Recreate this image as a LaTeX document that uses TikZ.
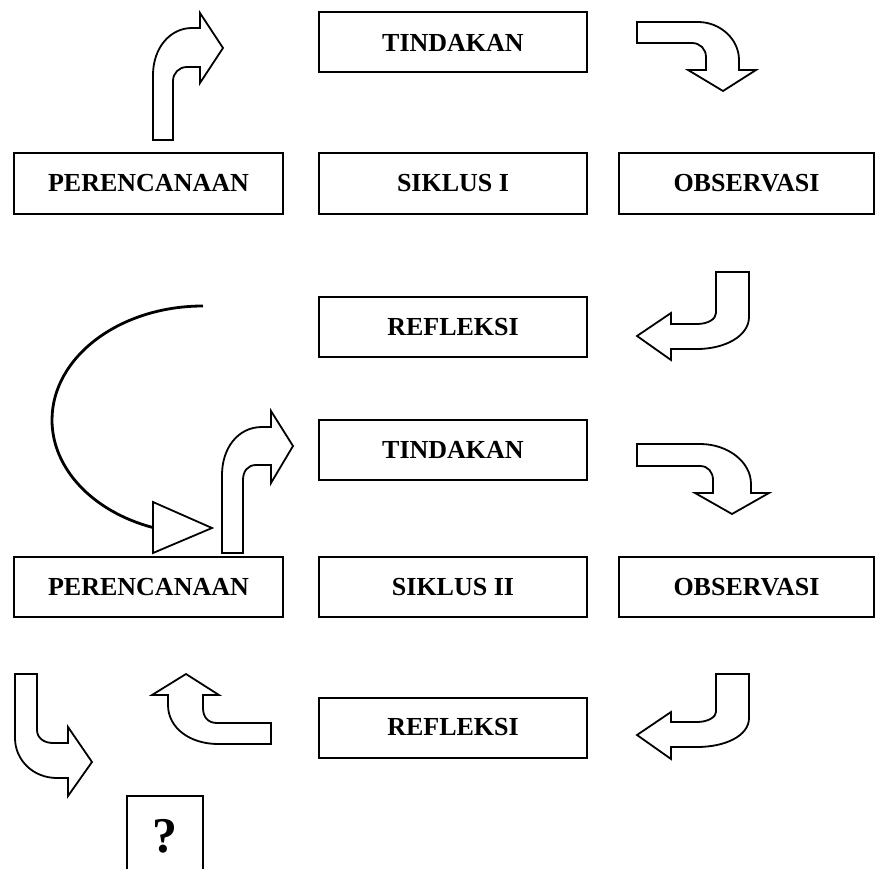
\documentclass[tikz,border=0pt]{standalone}
\usepackage{fontspec}
\setmainfont{Liberation Serif}
\begin{document}
\begin{tikzpicture}[x=1pt,y=-1pt,
  stage/.style={draw, line width=2pt, minimum width=268pt, minimum height=60pt, inner sep=0pt,
    font=\bfseries\fontsize{26}{30}\selectfont},
  blockarrow/.style={draw, line width=1.8pt, fill=white, line join=miter},
  loopline/.style={draw, line width=2.8pt}]
\useasboundingbox (0,0) rectangle (875,869);
% boxes
\node[stage] (tind1) at (453,42.5) {TINDAKAN};
\node[stage, minimum width=269pt, minimum height=61pt] (per1) at (148.5,183.5) {PERENCANAAN};
\node[stage, minimum height=61pt] (sik1) at (453,183.5) {SIKLUS I};
\node[stage, minimum width=255pt, minimum height=61pt] (obs1) at (746.5,183.5) {OBSERVASI};
\node[stage] (ref1) at (453,327) {REFLEKSI};
\node[stage] (tind2) at (453,450) {TINDAKAN};
\node[stage, minimum width=269pt] (per2) at (148.5,587) {PERENCANAAN};
\node[stage] (sik2) at (453,587) {SIKLUS II};
\node[stage, minimum width=255pt] (obs2) at (746.5,587) {OBSERVASI};
\node[stage] (ref2) at (453,727.5) {REFLEKSI};
\node[font=\bfseries\fontsize{50}{56}\selectfont, inner sep=0pt] (q) at (165,836) {?};
\draw[line width=2pt] (127,869) -- (127,796) -- (203,796) -- (203,869);
% arrow 1: up then right (Perencanaan I -> Tindakan I)
\path[blockarrow] (153,140) -- (153,75) .. controls (153,48) and (170,28) .. (192,28) -- (200,28)
  -- (200,13) -- (223,48) -- (200,83) -- (200,67) -- (187,67)
  .. controls (179,67) and (173,73) .. (173,81) -- (173,140) -- cycle;
% arrow 2: right then down (Tindakan I -> Observasi I)
\path[blockarrow] (637,22) -- (698,22) .. controls (720,22) and (739,39) .. (739,60) -- (739,70)
  -- (756,70) -- (723,91) -- (688,70) -- (706,70) -- (706,57)
  .. controls (706,49) and (700,43) .. (692,43) -- (637,43) -- cycle;
% arrow 3: down then left (Observasi I -> Refleksi I)
\path[blockarrow] (716,272) -- (749,272) -- (749,317) .. controls (749,336) and (725,349) .. (697,349)
  -- (671,349) -- (671,360) -- (637,336) -- (671,313) -- (671,324) -- (697,324)
  .. controls (708,324) and (716,319) .. (716,313) -- cycle;
% loop from Refleksi I to Perencanaan II
\draw[loopline] (203,306) arc[start angle=90, end angle=250.7, x radius=151pt, y radius=114pt];
\path[blockarrow] (153,502) -- (212,528) -- (153,553) -- cycle;
% arrow 4: up then right (Perencanaan II -> Tindakan II)
\path[blockarrow] (222,553) -- (222,475) .. controls (222,448) and (238,427) .. (262,427) -- (271,427)
  -- (271,411) -- (293,446) -- (271,483) -- (271,465) -- (256,465)
  .. controls (248,465) and (243,471) .. (243,480) -- (243,553) -- cycle;
% arrow 5: right then down (Tindakan II -> Observasi II)
\path[blockarrow] (637,444) -- (700,444) .. controls (728,444) and (751,462) .. (751,484) -- (751,493)
  -- (769,493) -- (732,514) -- (695,493) -- (713,493) -- (713,480)
  .. controls (713,472) and (708,466) .. (700,466) -- (637,466) -- cycle;
% arrow 6: down then left (Observasi II -> Refleksi II)
\path[blockarrow] (716,674) -- (749,674) -- (749,718) .. controls (749,736) and (725,747) .. (697,747)
  -- (671,747) -- (671,759) -- (637,735) -- (671,712) -- (671,722) -- (697,722)
  .. controls (708,722) and (716,717) .. (716,712) -- cycle;
% arrow 8: left then up (Refleksi II -> Perencanaan II)
\path[blockarrow] (271,723) -- (271,744) -- (218,744) .. controls (190,744) and (168,728) .. (168,705)
  -- (168,695) -- (152,695) -- (186,674) -- (219,695) -- (203,695) -- (203,708)
  .. controls (203,717) and (208,723) .. (217,723) -- cycle;
% arrow 7: down then right (Perencanaan II -> ?)
\path[blockarrow] (15,674) -- (37,674) -- (37,730) .. controls (37,738) and (44,743) .. (53,743)
  -- (68,743) -- (68,727) -- (92,762) -- (68,796) -- (68,778) -- (57,778)
  .. controls (33,778) and (15,760) .. (15,738) -- cycle;
\end{tikzpicture}
\end{document}
